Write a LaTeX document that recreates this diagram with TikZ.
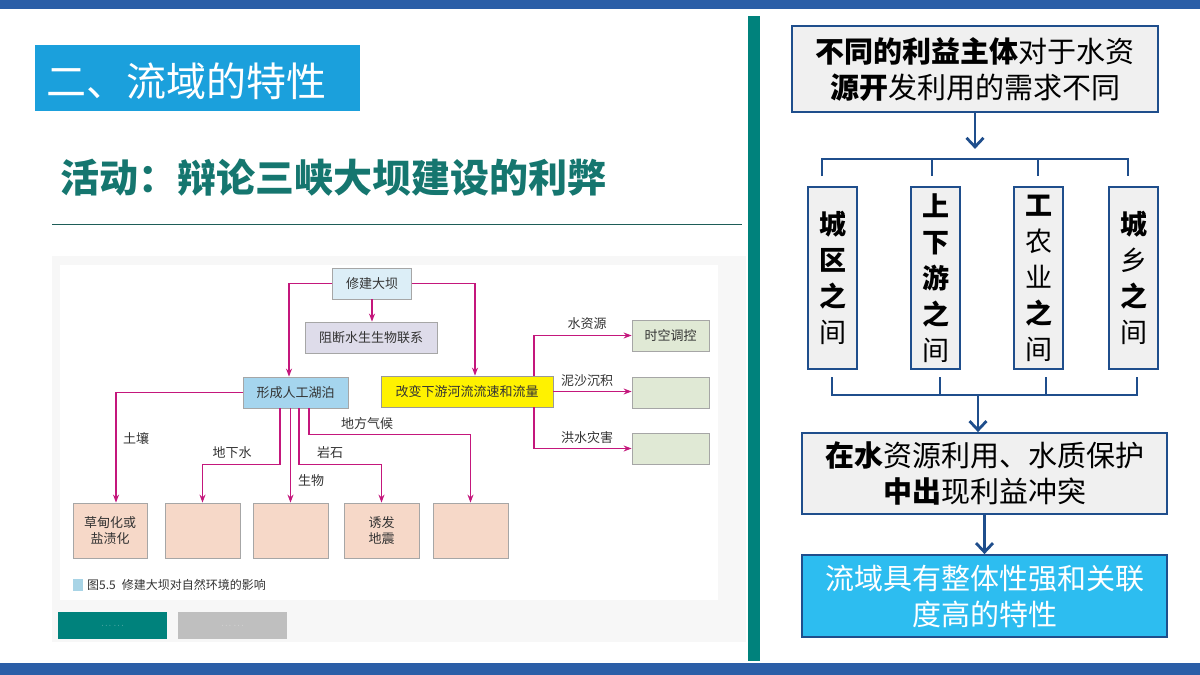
\documentclass[tikz,border=0pt]{standalone}
\usepackage{fontspec}
\newfontfamily\cjk{Noto Sans CJK SC}
\usetikzlibrary{arrows.meta,calc}
\definecolor{barblue}{HTML}{2B5EA7}
\definecolor{tealbar}{HTML}{00827C}
\definecolor{titlecyan}{HTML}{1BA0DC}
\definecolor{subteal}{HTML}{15766F}
\definecolor{lineteal}{HTML}{1E5D58}
\definecolor{magen}{HTML}{C4177C}
\definecolor{damfill}{HTML}{DCEEF7}
\definecolor{blockfill}{HTML}{DEDCEA}
\definecolor{lakefill}{HTML}{A5D5EE}
\definecolor{yel}{HTML}{FFF200}
\definecolor{grn}{HTML}{E0E9D5}
\definecolor{pink}{HTML}{F6D8C8}
\definecolor{navy}{HTML}{1F4E8C}
\definecolor{boxgray}{HTML}{F0F0F0}
\definecolor{skyblue}{HTML}{2DBDF0}
\definecolor{btngray}{HTML}{BFBFBF}
\definecolor{txtgray}{HTML}{333333}
\definecolor{capblue}{HTML}{A8D4E6}
\tikzset{
  dbox/.style={draw=#1, line width=0.8pt, inner sep=0pt, text=txtgray,
    font=\cjk\fontsize{13}{16}\selectfont, align=center},
  parr/.style={draw=magen, line width=1.2pt, -{Stealth[length=8pt,width=6pt]}},
  plabel/.style={font=\cjk\fontsize{13}{15}\selectfont, text=txtgray, inner sep=0pt},
  rbox/.style={draw=navy, line width=1.8pt, fill=boxgray, inner sep=0pt, align=center},
  nline/.style={draw=navy, line width=2.8pt},
  narr/.style={draw=navy, line width=2.8pt, -{Straight Barb[length=9pt,width=17pt,line width=2.8pt]}},
  vtext/.style={font=\cjk\fontsize{27}{36}\selectfont},
  htext/.style={font=\cjk\fontsize{29}{36}\selectfont}
}
\begin{document}
\begin{tikzpicture}[x=1pt,y=-1pt]
\useasboundingbox (0,0) rectangle (1200,675);
\fill[white] (0,0) rectangle (1200,675);
% bars
\fill[barblue] (0,0) rectangle (1200,9);
\fill[barblue] (0,663) rectangle (1200,675);
\fill[tealbar] (748,16) rectangle (760,661);
% title
\node[fill=titlecyan, minimum width=325pt, minimum height=66pt, inner sep=0pt] (titlebox) at (197.5,78) {};
\node[anchor=west, text=white, font=\cjk\fontsize{40}{44}\selectfont, inner sep=0pt] (titletext) at (46,81) {二、流域的特性};
\node[anchor=west, text=subteal, font=\cjk\bfseries\fontsize{39}{44}\selectfont, inner sep=0pt] (subtitle) at (60,178) {活动：辩论三峡大坝建设的利弊};
\draw[lineteal, line width=0.8pt] (52,224) -- (742,224);
% figure background
\fill[black!3] (52,256) rectangle (746,642);
\fill[white] (60,265) rectangle (718,600);
% diagram nodes
\node[dbox=gray!70, fill=damfill, minimum width=79pt, minimum height=31pt] (dam) at (372,283.5) {修建大坝};
\node[dbox=gray!70, fill=blockfill, minimum width=132pt, minimum height=31pt] (block) at (371,337.5) {阻断水生生物联系};
\node[dbox=gray!70, fill=lakefill, minimum width=105pt, minimum height=31pt] (lake) at (295.5,392.5) {形成人工湖泊};
\node[dbox=gray!80, fill=yel, minimum width=172pt, minimum height=31pt] (yellow) at (467,391.5) {改变下游河流流速和流量};
\node[dbox=gray!70, fill=grn, minimum width=77pt, minimum height=31pt] (g1) at (670.5,335.5) {时空调控};
\node[dbox=gray!70, fill=grn, minimum width=77pt, minimum height=31pt] (g2) at (670.5,392.5) {};
\node[dbox=gray!70, fill=grn, minimum width=77pt, minimum height=31pt] (g3) at (670.5,448.5) {};
\node[dbox=gray!70, fill=pink, minimum width=74pt, minimum height=55pt] (b1) at (110,530.5) {草甸化或\\盐渍化};
\node[dbox=gray!70, fill=pink, minimum width=75pt, minimum height=55pt] (b2) at (202.5,530.5) {};
\node[dbox=gray!70, fill=pink, minimum width=75pt, minimum height=55pt] (b3) at (290.5,530.5) {};
\node[dbox=gray!70, fill=pink, minimum width=75pt, minimum height=55pt] (b4) at (381.5,530.5) {诱发\\地震};
\node[dbox=gray!70, fill=pink, minimum width=75pt, minimum height=55pt] (b5) at (470.5,530.5) {};
% diagram arrows
\draw[parr] (dam.west) -| ([xshift=-6.5pt]lake.north);
\draw[parr] (dam.south) -- (dam.south |- block.north);
\draw[parr] (dam.east) -| ([xshift=8pt]yellow.north);
\draw[parr] (lake.west) -| ([xshift=6pt]b1.north);
\draw[parr] ([xshift=-15.5pt]lake.south) -- ++(0,56) -| (b2.north);
\draw[parr] (b3.north |- lake.south) -- (b3.north);
\draw[parr] ([xshift=3.5pt]lake.south) -- ++(0,56) -| (b4.north);
\draw[parr] ([xshift=13.5pt]lake.south) -- ++(0,26) -| (b5.north);
\draw[parr] ([xshift=67pt]yellow.north) |- (g1.west);
\draw[parr] (yellow.east) -- (yellow.east -| g2.west);
\draw[parr] ([xshift=67pt]yellow.south) |- (g3.west);
% labels
\node[plabel] (l1) at (136,438) {土壤};
\node[plabel] (l2) at (232,453) {地下水};
\node[plabel] (l3) at (311,481) {生物};
\node[plabel] (l4) at (330,453) {岩石};
\node[plabel] (l5) at (367,424) {地方气候};
\node[plabel] (l6) at (587,324) {水资源};
\node[plabel] (l7) at (587,381) {泥沙沉积};
\node[plabel] (l8) at (587,438) {洪水灾害};
% caption
\fill[capblue] (73,579) rectangle (83,591);
\node[anchor=west, inner sep=0pt, text=txtgray, font=\cjk\fontsize{12}{14}\selectfont] (cap) at (87,585) {图5.5\hspace{6pt}修建大坝对自然环境的影响};
% buttons
\node[fill=tealbar, minimum width=109pt, minimum height=27pt, inner sep=0pt, text=white!85!tealbar, font=\fontsize{7}{8}\selectfont] (btn1) at (112.5,625.5) {$\cdots$ $\cdots$};
\node[fill=btngray, minimum width=109pt, minimum height=27pt, inner sep=0pt, text=white!85!btngray, font=\fontsize{7}{8}\selectfont] (btn2) at (232.5,625.5) {$\cdots$ $\cdots$};
% right panel
\node[rbox, minimum width=366pt, minimum height=86pt, htext] (tb) at (975,69) {\textbf{不同的利益主体}对于水资\\\textbf{源开}发利用的需求不同};
\node[rbox, minimum width=49pt, minimum height=182pt, vtext] (v1) at (832.5,278) {\textbf{城}\\\textbf{区}\\\textbf{之}\\间};
\node[rbox, minimum width=49pt, minimum height=182pt, vtext] (v2) at (935.5,278) {\textbf{上}\\\textbf{下}\\\textbf{游}\\\textbf{之}\\间};
\node[rbox, minimum width=49pt, minimum height=182pt, vtext] (v3) at (1038.5,278) {\textbf{工}\\农\\业\\\textbf{之}\\间};
\node[rbox, minimum width=49pt, minimum height=182pt, vtext] (v4) at (1133.5,278) {\textbf{城}\\乡\\\textbf{之}\\间};
\node[rbox, minimum width=365pt, minimum height=81pt, htext] (cb) at (984.5,473.5) {\textbf{在水}资源利用、水质保护\\\textbf{中出}现利益冲突};
\node[rbox, fill=skyblue, text=white, minimum width=365pt, minimum height=82pt, htext] (fb) at (984.5,596) {流域具有整体性强和关联\\度高的特性};
% right connectors
\draw[narr] (tb.south) -- ++(0,36);
\draw[nline] (822,176) -- (822,159) -- (1128,159) -- (1128,176);
\draw[nline] (932,159) -- (932,176);
\draw[nline] (1038,159) -- (1038,176);
\draw[nline] (832,377) -- (832,395) -- (1137,395) -- (1137,377);
\draw[nline] (940,377) -- (940,395);
\draw[nline] (1046,377) -- (1046,395);
\coordinate (bj) at (978,395);
\draw[narr] (bj) -- (bj |- cb.north);
\draw[narr] (cb.south) -- (fb.north);
\end{tikzpicture}
\end{document}
